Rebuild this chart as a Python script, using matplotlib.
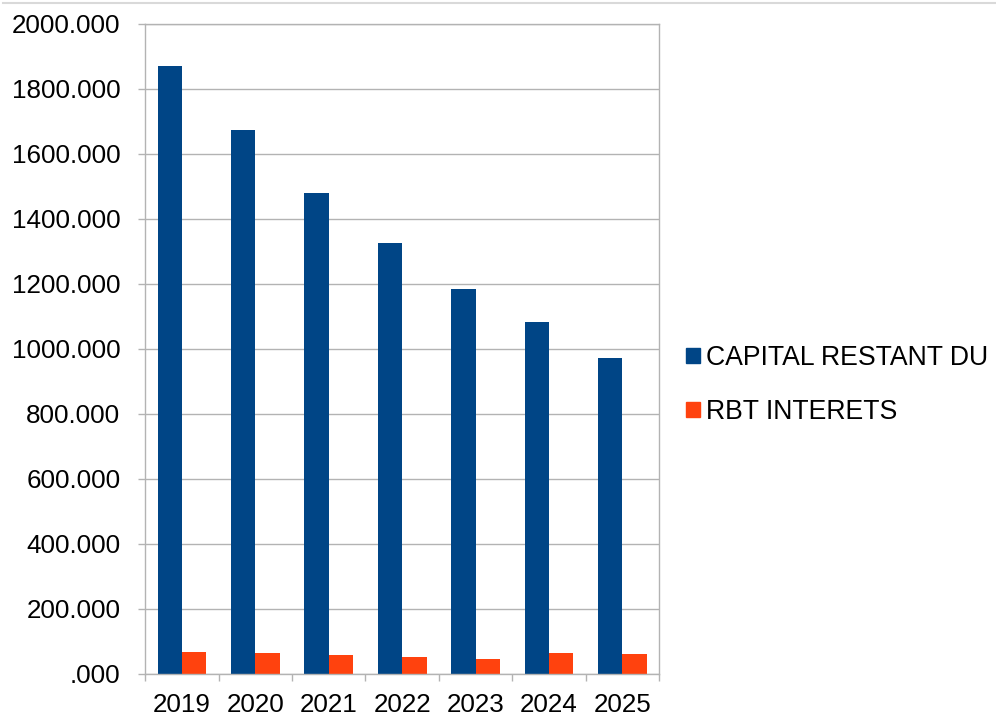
"""Capital restant du / remboursement interets, 2019-2025."""
import matplotlib
matplotlib.use("Agg")
import matplotlib.pyplot as plt
import numpy as np
from matplotlib.lines import Line2D
from matplotlib.patches import Patch
from matplotlib.ticker import FuncFormatter, MultipleLocator

plt.rcParams["font.family"] = ["Liberation Sans", "DejaVu Sans"]

years = ["2019", "2020", "2021", "2022", "2023", "2024", "2025"]
capital = [1871, 1672, 1479, 1326, 1185, 1081, 972]
interets = [66.7, 63.6, 58.5, 51.3, 45.0, 64.6, 61.5]
series_names = ["CAPITAL RESTANT DU", "RBT INTERETS"]

BLUE = "#004586"
ORANGE = "#ff420e"
GRID = "#b3b3b3"
FS = 18.7


def fmt(v, _pos):
    s = f"{v:.3f}"
    return s[1:] if s.startswith("0") else s


fig = plt.figure(figsize=(9.96, 7.2), dpi=100)
ax = fig.add_axes([0.1459, 0.0643, 0.5158, 0.9028])

x = np.arange(len(years))
w = 1 / 3
ax.bar(x - w / 2, capital, w, color=BLUE, zorder=2)
ax.bar(x + w / 2, interets, w, color=ORANGE, zorder=2)

ax.set_xlim(-0.5, len(years) - 0.5)
ax.set_ylim(0, 2000)
ax.yaxis.set_major_locator(MultipleLocator(200))
ax.yaxis.set_major_formatter(FuncFormatter(fmt))
ax.grid(axis="y", color=GRID, linewidth=1, zorder=0)

ax.set_xticks(x)
ax.set_xticklabels(years)
ax.set_xticks(np.arange(len(years) + 1) - 0.5, minor=True)
ax.tick_params(axis="x", which="major", length=0, pad=14, labelsize=FS)
ax.tick_params(axis="x", which="minor", length=5, color=GRID, width=1)
ax.tick_params(axis="y", length=5, color=GRID, width=1, pad=13, labelsize=FS)
for s in ax.spines.values():
    s.set_color(GRID)
    s.set_linewidth(1)

handles = [Patch(color=BLUE), Patch(color=ORANGE)]
fig.legend(handles, series_names, loc="center left",
           bbox_to_anchor=(0.689, 0.465), frameon=False, fontsize=19.2,
           handlelength=0.5, handleheight=0.5, handletextpad=0.25,
           labelspacing=1.05, borderpad=0, borderaxespad=0)

# faint frame edge along the top of the picture
fig.add_artist(Line2D([0.003, 1.0], [0.9955, 0.9955], color="#d9d9d9",
                      linewidth=1.5, transform=fig.transFigure))

fig.savefig("out.png", dpi=100, facecolor="white")
